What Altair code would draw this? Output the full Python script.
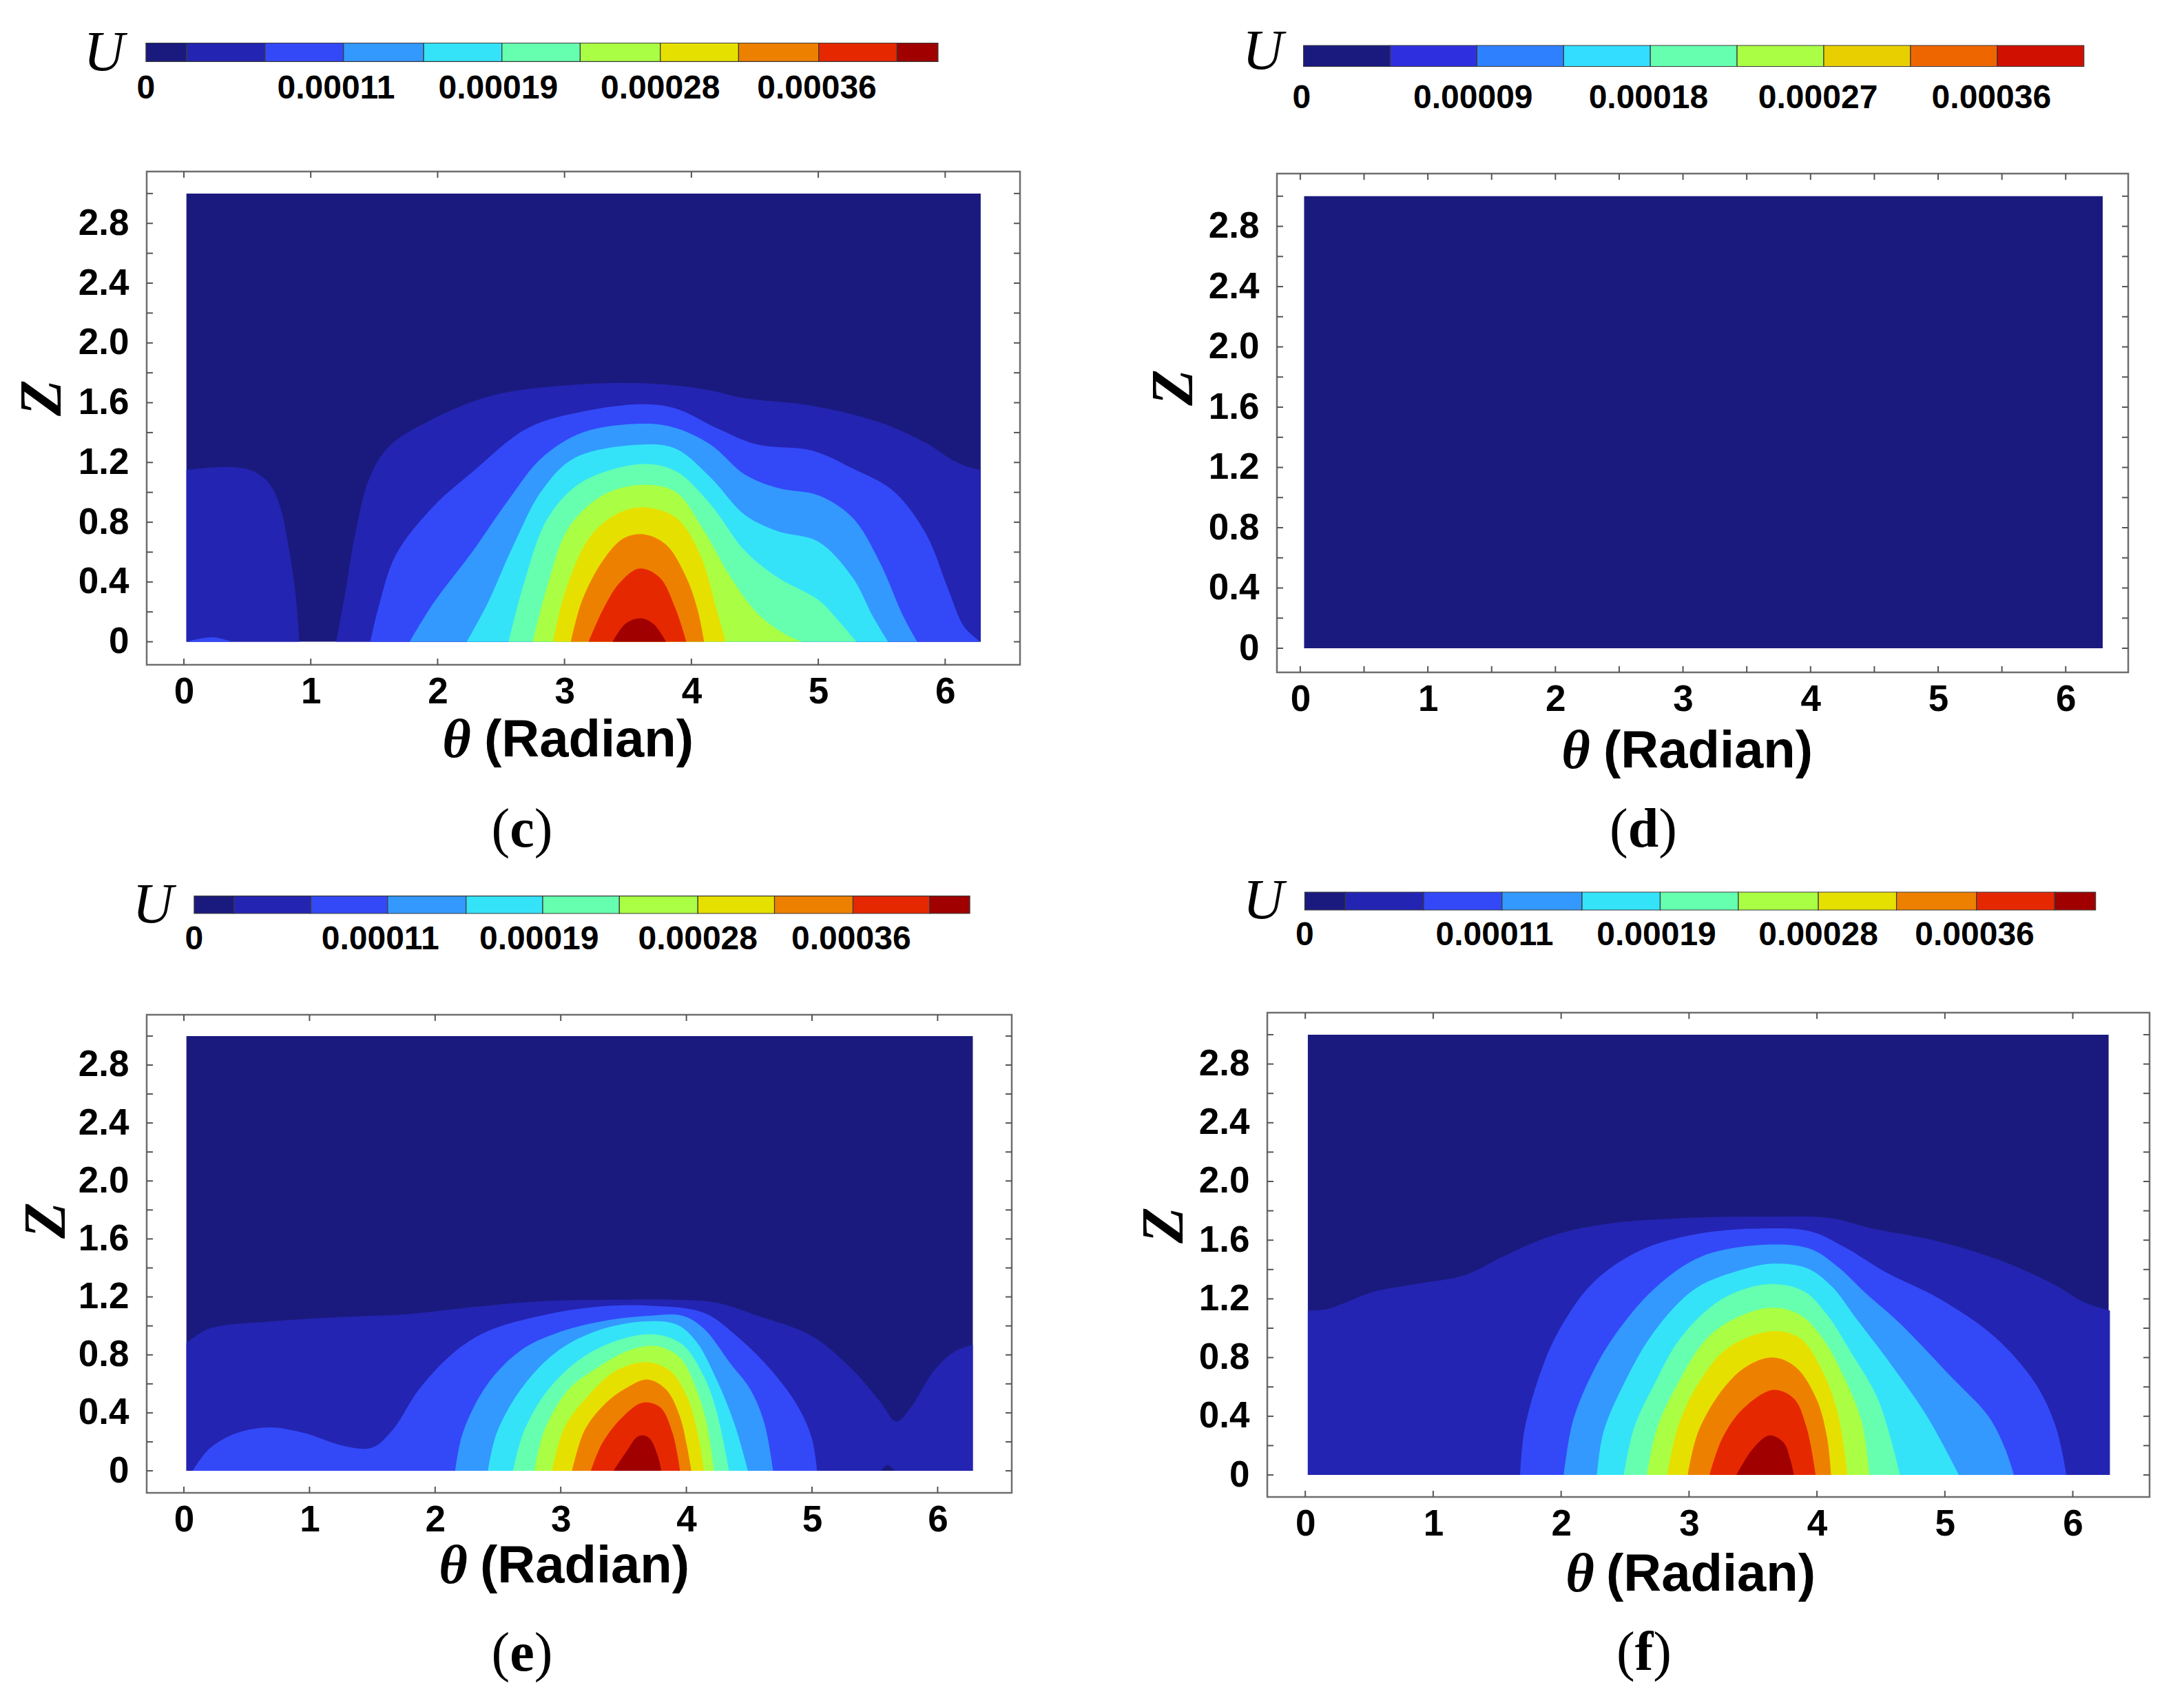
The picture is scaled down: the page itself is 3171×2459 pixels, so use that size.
import altair as alt
import pandas as pd

# ---------- colour levels ----------
palette_11 = ["#1a1a7e", "#2424b2", "#3349f8", "#3399ff", "#35e3f8", "#66ffb0",
              "#aaff44", "#e6e000", "#ee8000", "#e62800", "#a00000"]
edges_11 = [0, 0.0000218, 0.0000639, 0.000106, 0.000149, 0.000191, 0.000233,
            0.000276, 0.000318, 0.000361, 0.000403, 0.000425]
labels_11 = ["0", "0.00011", "0.00019", "0.00028", "0.00036"]
labelpos_11 = [0, 0.000102, 0.000189, 0.000276, 0.00036]

palette_9 = ["#1a1a7e", "#2e30e0", "#2e80ff", "#33ddff", "#66ffb0", "#aaff44",
             "#e8d000", "#ee6600", "#d01000"]
edges_9 = [0, 0.000045, 0.00009, 0.000135, 0.00018, 0.000225, 0.00027, 0.000315,
           0.00036, 0.000405]
labels_9 = ["0", "0.00009", "0.00018", "0.00027", "0.00036"]
labelpos_9 = [-0.000001, 0.000088, 0.000179, 0.000267, 0.000357]

# ---------- panel (c) contours ----------
c1a_t = [0.02, 0.36, 0.55, 0.68, 0.76, 0.82, 0.88, 0.91]
c1a_z = [1.15, 1.17, 1.14, 1.05, 0.90, 0.66, 0.32, 0]
c1b_t = [1.20, 1.27, 1.35, 1.46, 1.62, 1.96, 2.44, 3.08, 3.62, 4.10, 4.42, 4.95, 5.48, 5.85, 6.05, 6.18, 6.28]
c1b_z = [0, 0.32, 0.72, 1.09, 1.31, 1.49, 1.65, 1.72, 1.73, 1.69, 1.63, 1.58, 1.47, 1.33, 1.22, 1.17, 1.15]
c2a_t = [0.02, 0.12, 0.23, 0.38]
c2a_z = [0, 0.02, 0.03, 0]
c2b_t = [1.47, 1.54, 1.67, 1.96, 2.28, 2.71, 3.14, 3.62, 3.88, 4.20, 4.52, 4.95, 5.27, 5.59, 5.85, 6.02, 6.15, 6.28]
c2b_z = [0, 0.25, 0.58, 0.90, 1.14, 1.43, 1.54, 1.59, 1.56, 1.43, 1.32, 1.28, 1.16, 1.01, 0.72, 0.36, 0.10, 0]
c3_t = [1.78, 1.96, 2.28, 2.55, 2.82, 3.14, 3.62, 3.88, 4.15, 4.42, 4.68, 5.0, 5.27, 5.48, 5.67, 5.78]
c3_z = [0, 0.25, 0.61, 0.94, 1.23, 1.40, 1.46, 1.43, 1.32, 1.12, 1.03, 0.98, 0.83, 0.54, 0.17, 0]
c4_t = [2.23, 2.39, 2.60, 2.82, 3.08, 3.62, 3.88, 4.15, 4.42, 4.68, 5.0, 5.27, 5.43, 5.55]
c4_z = [0, 0.25, 0.65, 1.01, 1.23, 1.32, 1.29, 1.10, 0.85, 0.74, 0.67, 0.43, 0.17, 0]
c5_t = [2.56, 2.68, 2.87, 3.14, 3.62, 3.88, 4.15, 4.42, 4.68, 5.0, 5.16, 5.30]
c5_z = [0, 0.39, 0.83, 1.07, 1.19, 1.14, 0.92, 0.61, 0.43, 0.28, 0.14, 0]
c6_t = [2.75, 2.87, 3.03, 3.30, 3.62, 3.88, 4.10, 4.31, 4.52, 4.74, 4.87]
c6_z = [0, 0.39, 0.76, 0.98, 1.05, 1.0, 0.74, 0.43, 0.19, 0.05, 0]
c7_t = [2.91, 3.0, 3.19, 3.40, 3.62, 3.88, 4.07, 4.20, 4.27]
c7_z = [0, 0.32, 0.69, 0.85, 0.90, 0.83, 0.58, 0.21, 0]
c8_t = [3.05, 3.14, 3.30, 3.46, 3.62, 3.80, 3.96, 4.05, 4.10]
c8_z = [0, 0.28, 0.54, 0.69, 0.72, 0.65, 0.43, 0.21, 0]
c9_t = [3.19, 3.30, 3.43, 3.59, 3.75, 3.88, 3.96]
c9_z = [0, 0.21, 0.39, 0.49, 0.43, 0.21, 0]
c10_t = [3.38, 3.48, 3.60, 3.70, 3.80]
c10_z = [0, 0.12, 0.157, 0.12, 0]

# ---------- panel (e) contours ----------
e1_t = [0.02, 0.2, 0.69, 1.23, 1.77, 2.30, 2.84, 3.38, 3.92, 4.24, 4.57, 5.0, 5.32, 5.54, 5.67, 5.78, 5.97, 6.13, 6.28]
e1_z = [0.88, 0.98, 1.03, 1.06, 1.08, 1.13, 1.17, 1.18, 1.18, 1.16, 1.07, 0.93, 0.70, 0.48, 0.34, 0.43, 0.69, 0.82, 0.87]
e0_t = [5.55, 5.60, 5.66]
e0_z = [0, 0.04, 0]
e2_t = [0.07, 0.2, 0.42, 0.69, 0.96, 1.28, 1.50, 1.66, 1.87, 2.14, 2.41, 2.84, 3.27, 3.70, 4.14, 4.40, 4.67, 4.89, 5.0, 5.04]
e2_z = [0, 0.15, 0.26, 0.30, 0.26, 0.17, 0.16, 0.28, 0.56, 0.81, 0.96, 1.07, 1.13, 1.14, 1.09, 0.93, 0.70, 0.44, 0.22, 0]
e3_t = [2.16, 2.22, 2.41, 2.68, 3.0, 3.38, 3.70, 3.97, 4.14, 4.35, 4.51, 4.62, 4.69]
e3_z = [0, 0.26, 0.59, 0.83, 0.96, 1.04, 1.07, 1.07, 0.98, 0.74, 0.56, 0.33, 0]
e4_t = [2.42, 2.49, 2.68, 2.95, 3.27, 3.65, 3.92, 4.08, 4.24, 4.38, 4.49]
e4_z = [0, 0.26, 0.56, 0.81, 0.96, 1.03, 1.01, 0.89, 0.63, 0.33, 0]
e5_t = [2.62, 2.71, 2.90, 3.17, 3.49, 3.76, 3.97, 4.14, 4.24, 4.34]
e5_z = [0, 0.28, 0.56, 0.78, 0.91, 0.94, 0.87, 0.65, 0.41, 0]
e6_t = [2.79, 2.87, 3.06, 3.27, 3.54, 3.76, 3.95, 4.08, 4.16, 4.22]
e6_z = [0, 0.28, 0.56, 0.70, 0.83, 0.86, 0.78, 0.56, 0.33, 0]
e7_t = [2.93, 3.03, 3.22, 3.44, 3.68, 3.87, 4.0, 4.08, 4.14]
e7_z = [0, 0.30, 0.52, 0.69, 0.75, 0.69, 0.52, 0.30, 0]
e8_t = [3.09, 3.19, 3.35, 3.52, 3.69, 3.84, 3.95, 4.0, 4.04]
e8_z = [0, 0.28, 0.46, 0.57, 0.63, 0.56, 0.37, 0.19, 0]
e9_t = [3.24, 3.33, 3.49, 3.65, 3.79, 3.89, 3.95]
e9_z = [0, 0.19, 0.37, 0.47, 0.44, 0.26, 0]
e10_t = [3.42, 3.52, 3.62, 3.70, 3.77, 3.80]
e10_z = [0, 0.13, 0.24, 0.23, 0.11, 0]

# ---------- panel (f) contours ----------
f1_t = [0.02, 0.17, 0.54, 0.86, 1.24, 1.55, 1.93, 2.35, 2.94, 3.58, 4.11, 4.43, 4.91, 5.44, 5.87, 6.08, 6.29]
f1_z = [1.12, 1.13, 1.25, 1.30, 1.36, 1.49, 1.63, 1.71, 1.75, 1.76, 1.75, 1.68, 1.60, 1.46, 1.29, 1.18, 1.12]
f2_t = [1.68, 1.71, 1.82, 1.98, 2.25, 2.62, 3.05, 3.58, 3.95, 4.22, 4.54, 4.96, 5.39, 5.71, 5.87, 5.95]
f2_z = [0, 0.29, 0.65, 0.98, 1.31, 1.53, 1.64, 1.68, 1.66, 1.55, 1.38, 1.20, 0.94, 0.62, 0.32, 0]
f3_t = [2.02, 2.09, 2.22, 2.41, 2.73, 3.10, 3.63, 3.95, 4.16, 4.38, 4.64, 5.07, 5.34, 5.47, 5.54]
f3_z = [0, 0.36, 0.65, 0.94, 1.27, 1.49, 1.57, 1.54, 1.42, 1.24, 1.04, 0.65, 0.40, 0.18, 0]
f4_t = [2.28, 2.33, 2.49, 2.73, 3.05, 3.42, 3.66, 3.92, 4.11, 4.32, 4.59, 4.86, 5.11]
f4_z = [0, 0.29, 0.62, 0.98, 1.27, 1.40, 1.44, 1.41, 1.29, 1.05, 0.74, 0.40, 0]
f5_t = [2.49, 2.57, 2.73, 2.94, 3.26, 3.63, 3.90, 4.08, 4.27, 4.48, 4.65]
f5_z = [0, 0.32, 0.62, 0.94, 1.20, 1.30, 1.25, 1.09, 0.83, 0.51, 0]
f6_t = [2.67, 2.75, 2.91, 3.15, 3.42, 3.66, 3.87, 4.06, 4.22, 4.35, 4.41]
f6_z = [0, 0.32, 0.62, 0.94, 1.09, 1.14, 1.09, 0.91, 0.65, 0.36, 0]
f7_t = [2.83, 2.91, 3.07, 3.31, 3.66, 3.87, 4.03, 4.16, 4.24]
f7_z = [0, 0.32, 0.62, 0.87, 0.98, 0.93, 0.73, 0.43, 0]
f8_t = [2.99, 3.07, 3.26, 3.45, 3.66, 3.84, 4.0, 4.08, 4.11]
f8_z = [0, 0.29, 0.58, 0.74, 0.80, 0.73, 0.51, 0.25, 0]
f9_t = [3.16, 3.26, 3.42, 3.66, 3.82, 3.92, 3.99]
f9_z = [0, 0.25, 0.45, 0.58, 0.52, 0.32, 0]
f10_t = [3.37, 3.50, 3.63, 3.74, 3.79, 3.82]
f10_z = [0, 0.18, 0.27, 0.22, 0.11, 0]

contours_c = [(1, c1a_t, c1a_z), (1, c1b_t, c1b_z), (2, c2a_t, c2a_z), (2, c2b_t, c2b_z),
              (3, c3_t, c3_z), (4, c4_t, c4_z), (5, c5_t, c5_z), (6, c6_t, c6_z),
              (7, c7_t, c7_z), (8, c8_t, c8_z), (9, c9_t, c9_z), (10, c10_t, c10_z)]
contours_d = []
contours_e = [(1, e1_t, e1_z), (0, e0_t, e0_z), (2, e2_t, e2_z), (3, e3_t, e3_z), (4, e4_t, e4_z),
              (5, e5_t, e5_z), (6, e6_t, e6_z), (7, e7_t, e7_z), (8, e8_t, e8_z),
              (9, e9_t, e9_z), (10, e10_t, e10_z)]
contours_f = [(1, f1_t, f1_z), (2, f2_t, f2_z), (3, f3_t, f3_z), (4, f4_t, f4_z), (5, f5_t, f5_z),
              (6, f6_t, f6_z), (7, f7_t, f7_z), (8, f8_t, f8_z), (9, f9_t, f9_z), (10, f10_t, f10_z)]

z_axis_values = [0, 0.4, 0.8, 1.2, 1.6, 2.0, 2.4, 2.8]
theta_axis_values = [0, 1, 2, 3, 4, 5, 6]
z_minor = [0, 0.2, 0.4, 0.6, 0.8, 1.0, 1.2, 1.4, 1.6, 1.8, 2.0, 2.2, 2.4, 2.6, 2.8, 3.0]
theta_whole = [0, 1, 2, 3, 4, 5, 6]
theta_half = [0, 0.5, 1, 1.5, 2, 2.5, 3, 3.5, 4, 4.5, 5, 5.5, 6]

SANS = "Liberation Sans"
SERIF = "Liberation Serif"
FRAME = "#6e6e6e"
TICK = 9


def text_at(text, x, y, font=SANS, size=50, weight="normal", style="normal",
            align="center", baseline="middle", angle=0, color="black"):
    return alt.Chart(pd.DataFrame({"t": [text]})).mark_text(
        font=font, fontSize=size, fontWeight=weight, fontStyle=style,
        align=align, baseline=baseline, angle=angle, color=color
    ).encode(x=alt.value(x), y=alt.value(y), text="t:N")


def plot_panel(letter, contours, palette, w, h, xdom, ydom, ticks_x, xdata, titles, letter_xy):
    xs = alt.Scale(domain=xdom, nice=False, zero=False)
    ys = alt.Scale(domain=ydom, nice=False, zero=False)
    levels = list(range(len(palette)))
    cs = alt.Scale(domain=levels, range=palette)
    xax = alt.Axis(values=theta_axis_values, tickSize=0, domain=False, grid=False, title=None,
                   labelFont=SANS, labelFontWeight="bold", labelFontSize=53, labelColor="black",
                   labelPadding=13, labelFlush=False, labelOverlap=False, format="d")
    yax = alt.Axis(values=z_axis_values, tickSize=0, domain=False, grid=False, title="Z",
                   labelFont=SANS, labelFontWeight="bold", labelFontSize=53, labelColor="black",
                   labelPadding=26, labelFlush=False, labelOverlap=False,
                   labelExpr="datum.value == 0 ? '0' : format(datum.value, '.1f')",
                   titleFont=SERIF, titleFontWeight="bold", titleFontStyle="italic", titleFontSize=86,
                   titleColor="black", titleX=titles["zx"], titleY=titles["zy"], titleAlign="center",
                   titleBaseline="middle", titleAngle=270)
    base = alt.Chart(pd.DataFrame({"t0": [xdata[0]], "t1": [xdata[1]], "z0": [0], "z1": [3.0],
                                   "level": [0]})).mark_rect().encode(
        x=alt.X("t0:Q", scale=xs, axis=xax), x2="t1:Q",
        y=alt.Y("z0:Q", scale=ys, axis=yax), y2="z1:Q",
        color=alt.Color("level:O", scale=cs, legend=None))
    layers = [base]
    for lev, ts, zs in contours:
        sub = pd.DataFrame({"theta": ts, "z": zs, "level": [lev] * len(ts), "base": [0] * len(ts)})
        layers.append(alt.Chart(sub).mark_area(interpolate="catmull-rom", strokeWidth=0).encode(
            x=alt.X("theta:Q", scale=xs), y=alt.Y("z:Q", scale=ys, stack=None), y2="base:Q",
            color=alt.Color("level:O", scale=cs, legend=None)))
    tx = pd.DataFrame({"v": ticks_x})
    ty = pd.DataFrame({"v": z_minor})
    tick_mark = dict(color="#555555", strokeWidth=2)
    for a, b in ((h, h - TICK), (0, TICK)):
        layers.append(alt.Chart(tx).mark_rule(**tick_mark).encode(
            x=alt.X("v:Q", scale=xs), y=alt.value(a), y2=alt.value(b)))
    for a, b in ((0, TICK), (w, w - TICK)):
        layers.append(alt.Chart(ty).mark_rule(**tick_mark).encode(
            y=alt.Y("v:Q", scale=ys), x=alt.value(a), x2=alt.value(b)))
    layers.append(text_at("θ", titles["tx"], titles["ty"], font=SERIF, size=80, weight="bold", style="italic"))
    layers.append(text_at("(Radian)", titles["rx"], titles["ty"], size=76, weight="bold", align="left"))
    wid = {"c": 0.444, "d": 0.556, "e": 0.444, "f": 0.333}[letter] * 80
    lx, ly = letter_xy
    layers.append(text_at("(", lx - wid / 2, ly, font=SERIF, size=80, align="right", baseline="alphabetic"))
    layers.append(text_at(letter, lx, ly, font=SERIF, size=80, weight="bold", baseline="alphabetic"))
    layers.append(text_at(")", lx + wid / 2, ly, font=SERIF, size=80, align="left", baseline="alphabetic"))
    return alt.layer(*layers).properties(
        width=w, height=h, view=alt.ViewBackground(stroke=FRAME, strokeWidth=2.5))


def bar_panel(palette, edges, labels, labelpos, w, h, xdom, by0, by1, ly, ux, uy):
    xs = alt.Scale(domain=xdom, nice=False, zero=False)
    levels = list(range(len(palette)))
    cs = alt.Scale(domain=levels, range=palette)
    seg = pd.DataFrame({"u0": edges[:-1], "u1": edges[1:], "level": levels})
    bar = alt.Chart(seg).mark_rect(stroke="#3a3a3a", strokeWidth=1.2).encode(
        x=alt.X("u0:Q", scale=xs, axis=None), x2="u1:Q",
        y=alt.value(by0), y2=alt.value(by1),
        color=alt.Color("level:O", scale=cs, legend=None))
    lab = alt.Chart(pd.DataFrame({"u": labelpos, "t": labels})).mark_text(
        font=SANS, fontWeight="bold", fontSize=48, color="black", baseline="middle"
    ).encode(x=alt.X("u:Q", scale=xs, axis=None), y=alt.value(ly), text="t:N")
    u = text_at("U", ux, uy, font=SERIF, size=82, style="italic")
    return alt.layer(bar, lab, u).properties(width=w, height=h,
                                             view=alt.ViewBackground(stroke=None))


# Full-size positions of the frames
TOP1, TOP2 = 30, 1240


def titles(zx, zy, tx, rx, ty):
    return dict(zx=zx, zy=zy, tx=tx, rx=rx, ty=ty)


plot_c = plot_panel("c", contours_c, palette_11, 1268, 716, [-0.293, 6.59], [-0.154, 3.147],
                    theta_whole, (0.02, 6.28), titles(-152, 328, 450, 490, 826), (545, 980))
plot_d = plot_panel("d", contours_d, palette_9, 1236, 724, [-0.183, 6.49], [-0.16, 3.15],
                    theta_half, (0.03, 6.29), titles(-150, 310, 434, 474, 839), (532, 977))
plot_e = plot_panel("e", contours_e, palette_11, 1256, 694, [-0.296, 6.59], [-0.152, 3.147],
                    theta_whole, (0.02, 6.28), titles(-146, 298, 445, 484, 801), (545, 952))
plot_f = plot_panel("f", contours_f, palette_11, 1281, 703, [-0.297, 6.60], [-0.15, 3.15],
                    theta_whole, (0.02, 6.28), titles(-150, 308, 454, 492, 816), (547, 954))

bar_c = bar_panel(palette_11, edges_11, labels_11, labelpos_11, 1268, 249 - TOP1,
                  [0.0000004, 0.000469], 62.5 - TOP1, 89.4 - TOP1, 128.5 - TOP1, 151 - 213, 77 - TOP1)
bar_d = bar_panel(palette_9, edges_9, labels_9, labelpos_9, 1236, 252 - TOP1,
                  [-0.0000138, 0.000428], 66 - TOP1, 96.5 - TOP1, 143 - TOP1, 1834 - 1854.4, 75 - TOP1)
bar_e = bar_panel(palette_11, edges_11, labels_11, labelpos_11, 1256, 1472.5 - TOP2,
                  [-0.000026, 0.000448], 1300.6 - TOP2, 1326 - TOP2, 1364 - TOP2, 222 - 213, 1314 - TOP2)
bar_f = bar_panel(palette_11, edges_11, labels_11, labelpos_11, 1281, 1470 - TOP2,
                  [-0.00002015, 0.000454], 1295 - TOP2, 1321 - TOP2, 1358 - TOP2, 1834 - 1839.6, 1308 - TOP2)


def col(a, b):
    return alt.vconcat(a, b, spacing=0, bounds="flush").resolve_scale(color="independent")


row1 = alt.hconcat(col(bar_c, plot_c), col(bar_d, plot_d), spacing=1641, bounds="flush").resolve_scale(color="independent")
row2 = alt.hconcat(col(bar_e, plot_e), col(bar_f, plot_f), spacing=1627, bounds="flush").resolve_scale(color="independent")
chart = alt.vconcat(row1, row2, spacing=1210, bounds="flush").resolve_scale(color="independent").properties(
    padding={"left": 8, "top": 22, "right": 0, "bottom": 0}, background="white"
).configure_view(stroke=None)

chart.save("out.html", embed_options={"renderer": "svg", "actions": False})
